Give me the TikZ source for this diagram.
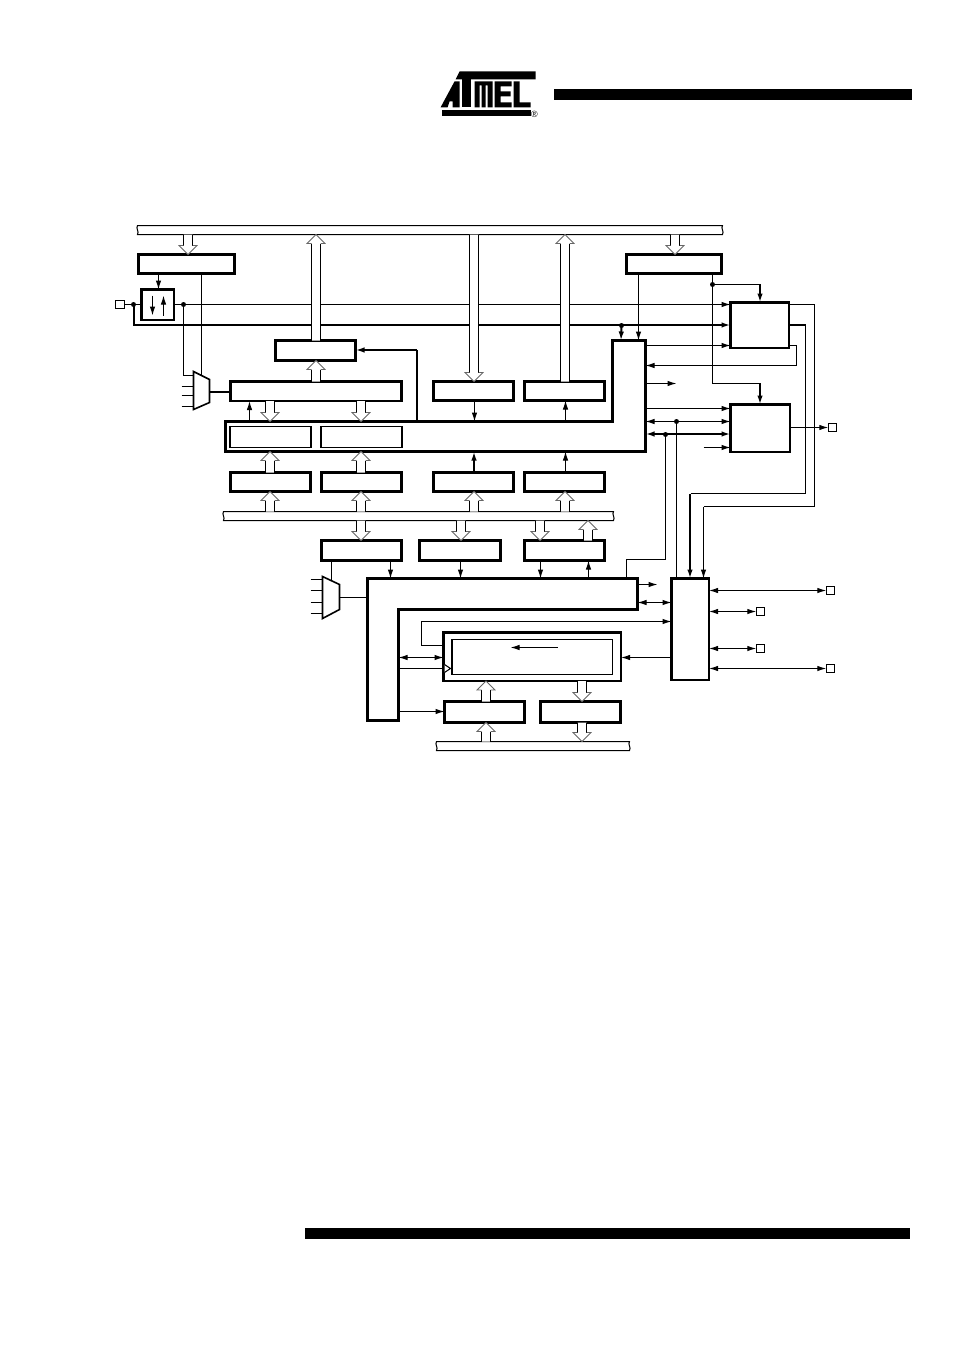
\documentclass[tikz,border=0pt]{standalone}
\usepackage{fontspec}
\setmainfont{Liberation Sans}
\usetikzlibrary{arrows.meta,calc}
\tikzset{
  reg/.style={draw,line width=3pt,fill=white,inner sep=0pt,outer sep=0pt},
  unitbox/.style={draw,line width=2.4pt,fill=white,inner sep=0pt,outer sep=0pt},
  inbox/.style={draw,line width=1.5pt,fill=white,inner sep=0pt,outer sep=0pt},
  pinbox/.style={draw,line width=1.4pt,fill=white,inner sep=0pt,outer sep=0pt,minimum size=8.5pt},
  junct/.style={circle,fill=black,inner sep=0pt,outer sep=0pt,minimum size=5pt},
  wire/.style={line width=1pt},
  hwire/.style={line width=2pt},
  arr/.style={-{Latex[length=9pt,width=5.5pt]}},
  dbl/.style={{Latex[length=9pt,width=5.5pt]}-{Latex[length=9pt,width=5.5pt]}},
  shape L/.style={draw,line width=3pt,fill=white,miter limit=10},
  busline/.style={draw,line width=1pt,fill=white},
}
\newcommand\boxat[6]{\node[#2,anchor=north west,minimum width={(#5-#3)*1pt},minimum height={(#6-#4)*1pt}] (#1) at (#3,#4) {};}
\newcommand\vw[4][]{\draw[wire,#1] (#2,0 |- #3) -- (#2,0 |- #4);}
\newcommand\hw[4][]{\draw[wire,#1] (#3 |- 0,#2) -- (#4 |- 0,#2);}
\newcommand\fat[3]{%
  \coordinate (s) at (#1,0 |- #2);
  \coordinate (t) at (#1,0 |- #3);
  \coordinate (b) at ($(t)!9pt!(s)$);
  \fill[white] ($(s)+(-4.5,0)$) -- ($(b)+(-4.5,0)$) -- ($(b)+(-9,0)$) -- (t) -- ($(b)+(9,0)$) -- ($(b)+(4.5,0)$) -- ($(s)+(4.5,0)$) -- cycle;
  \draw[wire] ($(s)+(-4.5,0)$) -- ($(b)+(-4.5,0)$) ($(s)+(4.5,0)$) -- ($(b)+(4.5,0)$);
  \draw[black!60,line width=.8pt] ($(b)+(-4.5,0)$) -- ($(b)+(-9,0)$) -- (t) -- ($(b)+(9,0)$) -- ($(b)+(4.5,0)$);
}
\begin{document}
\begin{tikzpicture}[x=1pt,y=-1pt,shift={(0.5,0.5)}]
\useasboundingbox (-.5,-.5) rectangle (953.5,1350.5);
% header, footer
\fill (553.5,88.5) rectangle (911.5,99.5);
\fill (304.5,1227.5) rectangle (909.5,1238.5);
% logo
\fill (459,71) -- (535,71) -- (535,79) -- (455,79) -- cycle;
\fill (441,110) -- (530,110) -- (530,116) -- (441,116) -- cycle;
\fill (440,107) -- (454,81) -- (459,81) -- (459,107) -- (452,107) -- (452,101) -- (449,101) -- (447,107) -- cycle;
\fill (461,79) -- (470,79) -- (470,107) -- (461,107) -- cycle;
\fill (474,81) -- (492,81) -- (492,107) -- (487,107) -- (487,85) -- (485,85) -- (485,107) -- (481,107) -- (481,85) -- (479,85) -- (479,107) -- (474,107) -- cycle;
\fill (494,81) -- (511,81) -- (511,86) -- (500,86) -- (500,91) -- (510,91) -- (510,96) -- (500,96) -- (500,102) -- (511,102) -- (511,107) -- (494,107) -- cycle;
\fill (513,81) -- (519,81) -- (519,102) -- (530,102) -- (530,107) -- (513,107) -- cycle;
\node[font=\fontsize{9}{9}\selectfont,inner sep=0pt] (regmark) at (534,113.5) {®};
% buses
\coordinate (tbT) at (430,225); \coordinate (tbB) at (430,234);
\coordinate (mbT) at (420,511); \coordinate (mbB) at (420,520);
\coordinate (lbT) at (530,741); \coordinate (lbB) at (530,750);
\draw[busline] (137,225) -- (722,225) .. controls (720,228) and (724,231) .. (722,234) -- (137,234) .. controls (139,231) and (135,228) .. (137,225) -- cycle;
\draw[busline] (223,511) -- (613,511) .. controls (611,514) and (615,517) .. (613,520) -- (223,520) .. controls (225,517) and (221,514) .. (223,511) -- cycle;
\draw[busline] (436,741) -- (629,741) .. controls (627,744) and (631,747) .. (629,750) -- (436,750) .. controls (438,747) and (434,744) .. (436,741) -- cycle;
% named boxes
\boxat{ba}{reg}{138}{254}{234}{273}
\boxat{bb}{reg}{626}{254}{721}{273}
\boxat{bidir}{unitbox}{141}{289}{173.5}{319.5}
\boxat{unita}{unitbox}{730}{302}{788.5}{347.5}
\boxat{unitb}{unitbox}{730}{404}{789.5}{451.5}
\boxat{unitc}{unitbox}{671}{578}{708.5}{679.5}
\boxat{rega}{reg}{275}{340}{355}{360}
\boxat{wide}{unitbox}{230}{381}{401}{400.5}
\boxat{upa}{reg}{433}{381}{513}{400}
\boxat{upb}{reg}{524}{381}{604}{400}
\boxat{loa}{reg}{230}{472}{310}{491}
\boxat{lob}{reg}{321}{472}{401}{491}
\boxat{loc}{reg}{433}{472}{513}{491}
\boxat{lod}{reg}{524}{472}{604}{491}
\boxat{mida}{reg}{321}{540}{401}{560}
\boxat{midb}{reg}{419}{540}{500}{560}
\boxat{midc}{reg}{524}{540}{604}{560}
\boxat{big}{unitbox}{443}{632}{620.5}{680.5}
\boxat{bota}{reg}{444}{701}{524}{722}
\boxat{botb}{reg}{540}{701}{620}{722}
% L shapes
\coordinate (Lone) at (612,421); \coordinate (Lonetop) at (630,340); \coordinate (Lonebot) at (430,451); \coordinate (Loneright) at (645,400); \coordinate (Loneleft) at (224,436);
\coordinate (Ltwotop) at (500,578); \coordinate (Ltwoin) at (500,609); \coordinate (Ltworight) at (637,600); \coordinate (Ltwoinner) at (398,660); \coordinate (Ltwoleft) at (366,600); \coordinate (Ltwobot) at (380,720);
\coordinate (muxaR) at (209,391); \coordinate (muxbR) at (339,597);
% wires
\vw[arr]{158}{ba.south}{bidir.north}
\node[pinbox] (pina) at (119.5,304) {};
\node[pinbox] (pinb) at (832,427) {};
\node[pinbox] (pinc) at (830,590) {};
\node[pinbox] (pind) at (760,611) {};
\node[pinbox] (pine) at (760,648) {};
\node[pinbox] (pinf) at (830,668) {};
\node[junct] (ja) at (133,304) {};
\node[junct] (jb) at (183,304) {};
\node[junct] (jc) at (621,325) {};
\node[junct] (jd) at (712,284) {};
\node[junct] (je) at (676,421) {};
\node[junct] (jf) at (665,434) {};
\draw[wire] (pina.east) -- (bidir.west |- pina.east);
\draw[wire,arr] (bidir.east |- jb) -- (unita.west |- jb);
\draw[hwire,arr] (ja.center) |- (unita.west |- 0,324.5);
\draw[wire] (jb.center) -- (183,375) -- (193,375);
\vw{201}{ba.south}{0,375}
\draw[wire,arr] (152,295) -- (152,315);
\draw[wire,arr] (163,315) -- (163,295);
\draw[wire] (181,386) -- (193,386) (181,395) -- (193,395) (181,406) -- (193,406);
\draw[line width=1.6pt] (193,371) -- (209,379) -- (209,402) -- (193,409) -- cycle;
\draw[hwire] (muxaR) -- (wide.west |- muxaR);
\vw[arr]{638}{bb.south}{Lonetop}
\draw[wire] (712,274) -- (jd.center);
\draw[wire] (jd.center) -- (760,284);
\draw[hwire,arr] (759.5,284) -- (unita.north -| 759.5,0);
\draw[wire] (jd.center) -- (712,383) -- (760,383);
\draw[hwire,arr] (759.5,383) -- (unitb.north -| 759.5,0);
\draw[hwire,arr] (jc.center) -- (620.5,0 |- Lonetop);
\draw[wire,arr] (Loneright |- 0,345) -- (unita.west |- 0,345);
\draw[wire,arr] (unita.east |- 0,345) -- (796,345) -- (796,365) -- (Loneright |- 0,365);
\draw[wire,arr] (Loneright |- 0,383) -- (676,383);
\draw[wire,arr] (Loneright |- 0,408) -- (unitb.west |- 0,408);
\hw[dbl]{421}{Loneright}{unitb.west}
\draw[hwire,dbl] (Loneright |- 0,433.5) -- (unitb.west |- 0,433.5);
\draw[wire,arr] (703,447) -- (unitb.west |- 0,447);
\draw[wire,arr] (unitb.east |- pinb) -- (pinb.west);
\draw[wire] (unita.east |- 0,304) -- (814,304) -- (814,506) -- (703,506);
\draw[wire,arr] (703,506) -- (703,0 |- unitc.north);
\draw[hwire] (unita.east |- 0,324.5) -- (805,324.5);
\draw[wire] (805,325) -- (805,493) -- (690,493);
\draw[hwire,arr] (689.5,493) -- (689.5,0 |- unitc.north);
\draw[wire] (je.center) -- (676,0 |- unitc.north);
\draw[wire] (jf.center) -- (665,559) -- (626,559) -- (626,0 |- Ltwotop);
\draw[line width=2pt] (416.5,0 |- Lone) -- (416.5,349.5);
\draw[line width=2pt,arr] (416.5,349.5) -- (rega.east |- 0,349.5);
\vw[arr]{474}{upa.south}{Lone}
\vw[arr]{565}{Lone}{upb.south}
\draw[line width=2pt,arr] (473.5,0 |- loc.north) -- (473.5,0 |- Lonebot);
\vw[arr]{565}{lod.north}{Lonebot}
\vw{331}{mida.south}{0,580}
\vw[arr]{390}{mida.south}{Ltwotop}
\vw[arr]{460}{midb.south}{Ltwotop}
\vw[arr]{540}{midc.south}{Ltwotop}
\vw[arr]{588}{Ltwotop}{midc.south}
\draw[wire] (310,579) -- (322,579) (310,590) -- (322,590) (310,602) -- (322,602) (310,613) -- (322,613);
\draw[line width=1.6pt] (322,576) -- (339,584) -- (339,609) -- (322,618) -- cycle;
\draw[wire] (muxbR) -- (Ltwoleft |- muxbR);
\draw[wire,arr] (Ltworight |- 0,584) -- (657,584);
\draw[wire,dbl] (Ltworight |- 0,602) -- (unitc.west |- 0,602);
\draw[wire,arr] (big.west |- 0,645) -- (421,645) -- (421,621) -- (unitc.west |- 0,621);
\draw[wire,dbl] (Ltwoinner |- 0,657) -- (big.west |- 0,657);
\draw[wire] (Ltwoinner |- 0,668) -- (big.west |- 0,668);
\draw[wire,arr] (Ltwoinner |- 0,711) -- (bota.west |- 0,711);
\draw[wire,arr] (unitc.west |- 0,657) -- (big.east |- 0,657);
\draw[wire,dbl] (unitc.east |- pinc) -- (pinc.west);
\draw[wire,dbl] (unitc.east |- pind) -- (pind.west);
\draw[wire,dbl] (unitc.east |- pine) -- (pine.west);
\draw[wire,dbl] (unitc.east |- pinf) -- (pinf.west);
% L shaped blocks
\draw[shape L] (224.5,421) -- (612,421) -- (612,340) -- (645,340) -- (645,451) -- (224.5,451) -- cycle;
\draw[shape L] (367,578) -- (637,578) -- (637,609) -- (398,609) -- (398,720) -- (367,720) -- cycle;
\vw[arr]{249}{Lone}{wide.south}
\vw{417}{Lone}{0,419}
\boxat{ina}{inbox}{229.5}{426}{310.5}{447}
\boxat{inb}{inbox}{320.5}{426}{401.5}{447}
\boxat{inner}{inbox}{451.5}{639}{612}{674}
\draw[wire,arr] (557,647) -- (510,647);
\draw[wire,fill=white] (444,664) -- (450,668) -- (444,672);
% fat arrows
\fat{187.5}{tbB}{ba.north}
\fat{674.5}{tbB}{bb.north}
\fat{473.5}{tbB}{upa.north}
\fat{315.5}{rega.north}{tbB}
\fat{564.5}{upb.north}{tbB}
\fat{315.5}{wide.north}{rega.south}
\fat{269.5}{wide.south}{Lone}
\fat{360.5}{wide.south}{Lone}
\fat{269.5}{loa.north}{Lonebot}
\fat{360.5}{lob.north}{Lonebot}
\fat{269.5}{mbT}{loa.south}
\fat{360.5}{mbT}{lob.south}
\fat{473.5}{mbT}{loc.south}
\fat{564.5}{mbT}{lod.south}
\fat{360.5}{mbB}{mida.north}
\fat{460.5}{mbB}{midb.north}
\fat{539.5}{mbB}{midc.north}
\fat{587.5}{midc.north}{mbB}
\fat{485.5}{bota.north}{big.south}
\fat{581.5}{big.south}{botb.north}
\fat{485.5}{lbT}{bota.south}
\fat{581.5}{botb.south}{lbT}
\end{tikzpicture}
\end{document}
